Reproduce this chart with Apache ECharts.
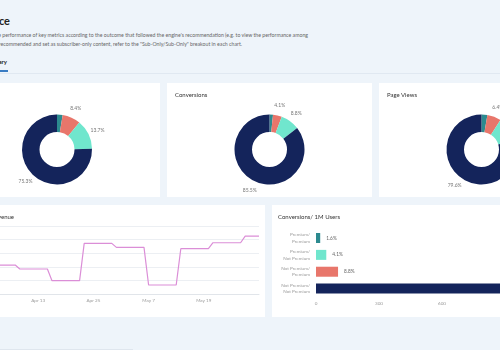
<!DOCTYPE html>
<html>
<head>
<meta charset="utf-8">
<script src="https://cdn.jsdelivr.net/npm/echarts@6/dist/echarts.min.js"></script>
<style>
  html, body { margin: 0; padding: 0; }
  body {
    width: 500px; height: 350px; overflow: hidden; position: relative;
    background: #eef4fa; font-family: Lato, "Open Sans", sans-serif;
  }
  .cut { position: absolute; white-space: nowrap; }
  .pageTitle { top: 15px; right: 490px; font-size: 11px; line-height: 11px; font-weight: 700; color: #222; }
  .desc { font-size: 5.2px; line-height: 6px; color: #666; }
  .tab { top: 59.3px; right: 493px; font-size: 6px; line-height: 6px; font-weight: 700; color: #222; }
  .tabLine { position: absolute; top: 70.3px; left: -30px; width: 38px; height: 2px; background: #3a7cc3; }
  .divider { position: absolute; top: 72.5px; left: 0; width: 500px; height: 1px; background: #e0e8f1; }
  .wrap { position: absolute; left: -46px; top: 0; width: 630px; height: 350px; }
  .card { position: absolute; background: #fff; }
  .card .chart { position: absolute; left: 0; top: 0; width: 100%; height: 100%; }
  .card .title { position: absolute; top: 9px; left: 8px; font-size: 6px; line-height: 6px; color: #333; white-space: nowrap; z-index: 2; }
  .footLine { position: absolute; top: 349px; left: 0; width: 133px; height: 1px; background: #dfe6ee; }
</style>
</head>
<body>
<div class="cut pageTitle">Performance</div>
<div class="cut desc" style="top:31.7px; right:192px;">View the performance of key metrics according to the outcome that followed the engine's recommendation (e.g. to view the performance among</div>
<div class="cut desc" style="top:40.7px; right:258px;">content that was recommended and set as subscriber-only content, refer to the "Sub-Only/Sub-Only" breakout in each chart.</div>
<div class="cut tab">Summary</div>
<div class="tabLine"></div>
<div class="divider"></div>

<div class="wrap">
  <div class="card" style="left:0; top:83px; width:206px; height:114px;">
    <div class="title">Users</div>
    <div class="chart" id="usersChart"></div>
  </div>
  <div class="card" style="left:213px; top:83px; width:205px; height:114px;">
    <div class="title">Conversions</div>
    <div class="chart" id="conversionsChart"></div>
  </div>
  <div class="card" style="left:425px; top:83px; width:205px; height:114px;">
    <div class="title">Page Views</div>
    <div class="chart" id="pageViewsChart"></div>
  </div>
  <div class="card" style="left:0; top:205px; width:311px; height:112px;">
    <div class="title" style="left:auto; right:251px;">Average Revenue</div>
    <div class="chart" id="revenueChart"></div>
  </div>
  <div class="card" style="left:318px; top:205px; width:311px; height:112px;">
    <div class="title" style="left:6px;">Conversions/ 1M Users</div>
    <div class="chart" id="perUserChart"></div>
  </div>
</div>
<div class="footLine"></div>

<script>
// Segments (recommendation / outcome)
const segments = ["Premium/Premium", "Not Premium/Premium", "Premium/Not Premium", "Not Premium/Not Premium"];
const donutColors = ["#2c8a8f", "#e8766b", "#70e6cd", "#14245b"];

// Donut shares (%)
const usersShare = [2.6, 8.4, 13.7, 75.3];
const conversionsShare = [1.6, 4.1, 8.8, 85.5];
const pageViewsShare = [2.7, 6.4, 11.3, 79.6];

// Conversions per 1M users
const barLabels = ["Premium/\nPremium", "Premium/\nNot Premium", "Not Premium/\nPremium", "Not Premium/\nNot Premium"];
const barColors = ["#2c8a8f", "#70e6cd", "#e8766b", "#14245b"];
const conversionsPer1M = [20, 49, 105, 1100];
const barShareLabels = [1.6, 4.1, 8.8, 85.5];

// Revenue by day
const revenueDates = [
  "Apr 1", "Apr 2", "Apr 3", "Apr 4", "Apr 5", "Apr 6", "Apr 7", "Apr 8", "Apr 9", "Apr 10",
  "Apr 11", "Apr 12", "Apr 13", "Apr 14", "Apr 15", "Apr 16", "Apr 17", "Apr 18", "Apr 19", "Apr 20",
  "Apr 21", "Apr 22", "Apr 23", "Apr 24", "Apr 25", "Apr 26", "Apr 27", "Apr 28", "Apr 29", "Apr 30",
  "May 1", "May 2", "May 3", "May 4", "May 5", "May 6", "May 7", "May 8", "May 9", "May 10",
  "May 11", "May 12", "May 13", "May 14", "May 15", "May 16", "May 17", "May 18", "May 19", "May 20",
  "May 21", "May 22", "May 23", "May 24", "May 25", "May 26", "May 27", "May 28", "May 29", "May 30",
  "May 31",
];
const revenueValues = [
  2.13, 2.13, 2.13, 2.13, 2.13, 2.13, 2.13, 2.13,
  1.84, 1.84, 1.84, 1.84, 1.84, 1.84, 1.84,
  0.98, 0.98, 0.98, 0.98, 0.98, 0.98, 0.98,
  3.72, 3.72, 3.72, 3.72, 3.72, 3.72, 3.72,
  3.43, 3.43, 3.43, 3.43, 3.43, 3.43, 3.43,
  0.66, 0.66, 0.66, 0.66, 0.66, 0.66, 0.66,
  3.33, 3.33, 3.33, 3.33, 3.33, 3.33, 3.33,
  3.77, 3.77, 3.77, 3.77, 3.77, 3.77, 3.77,
  4.26, 4.26, 4.26, 4.26,
];
const revenueTicks = [0, 1, 2, 3, 4, 5];
const revenueLabelDates = ["Apr 1", "Apr 13", "Apr 25", "May 7", "May 19"];

const perUserTicks = [0, 300, 600, 900, 1200];

function createDonut(containerId, shares) {
  const chart = echarts.init(document.getElementById(containerId));
  const data = shares.map((value, i) => ({ name: segments[i], value: value }));
  chart.setOption({
    animation: false,
    series: [
      {
        type: "pie",
        radius: [17.5, 35],
        center: ["50%", 66.5],
        silent: true,
        label: { show: false },
        labelLine: { show: false },
        itemStyle: { color: (p) => donutColors[p.dataIndex] },
        data: data,
      },
      {
        // ring only used to place the percentage labels
        type: "pie",
        radius: [38, 46],
        center: ["50%", 66.5],
        silent: true,
        itemStyle: { color: "transparent" },
        label: {
          show: true,
          position: "inside",
          rotate: 0,
          fontSize: 5,
          fontFamily: "Lato",
          color: "#777",
          formatter: (p) => (p.value >= 3 ? p.value + "%" : ""),
        },
        labelLine: { show: false },
        data: data,
      },
    ],
  });
}

createDonut("usersChart", usersShare);
createDonut("conversionsChart", conversionsShare);
createDonut("pageViewsChart", pageViewsShare);

// Revenue line
const revenueChart = echarts.init(document.getElementById("revenueChart"));
revenueChart.setOption({
  animation: false,
  grid: { left: 29, right: 6, top: 21, bottom: 23 },
  xAxis: {
    type: "category",
    boundaryGap: false,
    data: revenueDates,
    axisLine: { lineStyle: { color: "#e1e5ea" } },
    axisTick: { show: false },
    axisLabel: {
      interval: (idx, value) => revenueLabelDates.includes(value),
      fontSize: 4.6,
      fontFamily: "Lato",
      color: "#9a9a9a",
      margin: 4,
    },
  },
  yAxis: {
    type: "value",
    min: revenueTicks[0],
    max: revenueTicks[revenueTicks.length - 1],
    interval: 1,
    axisLabel: { fontSize: 5, color: "#9a9a9a" },
    splitLine: { lineStyle: { color: "#eceff3" } },
  },
  series: [
    {
      type: "line",
      data: revenueValues,
      showSymbol: false,
      silent: true,
      lineStyle: { color: "#db8ed7", width: 1.2 },
    },
  ],
});

// Conversions per 1M users bars
const perUserChart = echarts.init(document.getElementById("perUserChart"));
perUserChart.setOption({
  animation: false,
  grid: { left: 44, right: 15, top: 24.6, bottom: 20 },
  xAxis: {
    type: "value",
    min: perUserTicks[0],
    max: perUserTicks[perUserTicks.length - 1],
    interval: 300,
    splitLine: { show: false },
    axisLine: { show: false },
    axisTick: { show: false },
    axisLabel: { fontSize: 4.6, fontFamily: "Lato", color: "#9a9a9a", margin: 4 },
  },
  yAxis: {
    type: "category",
    inverse: true,
    data: barLabels,
    axisLine: { show: false },
    axisTick: { show: false },
    axisLabel: { fontSize: 4.6, fontFamily: "Lato", color: "#9a9a9a", lineHeight: 6.4, margin: 6 },
  },
  series: [
    {
      type: "bar",
      barWidth: 10,
      silent: true,
      data: conversionsPer1M.map((value, i) => ({
        value: value,
        itemStyle: { color: barColors[i] },
      })),
      label: {
        show: true,
        position: "right",
        distance: 6,
        fontSize: 4.8,
        fontFamily: "Lato",
        color: "#666",
        formatter: (p) => barShareLabels[p.dataIndex] + "%",
      },
    },
  ],
});
</script>
</body>
</html>
